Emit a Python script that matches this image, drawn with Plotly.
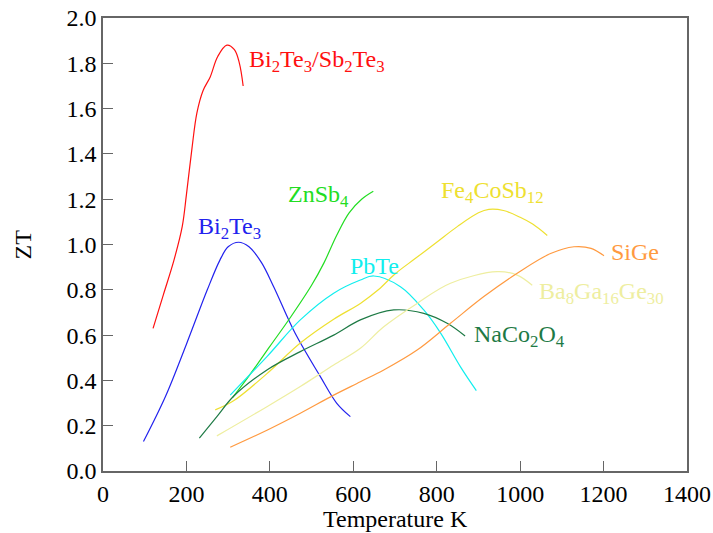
import plotly.graph_objects as go

# ---- data ----
bisb_T = [120, 145, 170, 190, 200, 213, 225, 240, 257, 275, 297, 315, 327, 336]
bisb_ZT = [0.63, 0.78, 0.93, 1.08, 1.22, 1.42, 1.58, 1.68, 1.74, 1.83, 1.88, 1.86, 1.80, 1.70]

bite_T = [97, 150, 200, 250, 280, 300, 325, 350, 380, 410, 460, 520, 560, 593]
bite_ZT = [0.13, 0.33, 0.56, 0.80, 0.93, 0.99, 1.01, 0.99, 0.92, 0.81, 0.61, 0.42, 0.30, 0.24]

znsb_T = [311, 350, 400, 450, 500, 530, 560, 590, 620, 648]
znsb_ZT = [0.325, 0.42, 0.55, 0.68, 0.82, 0.92, 1.04, 1.14, 1.20, 1.235]

pbte_T = [305, 393, 473, 553, 617, 649, 713, 769, 809, 857, 895]
pbte_ZT = [0.335, 0.505, 0.667, 0.785, 0.843, 0.861, 0.814, 0.711, 0.61, 0.46, 0.355]

feco_T = [269, 313, 393, 473, 553, 617, 660, 700, 750, 800, 850, 900, 925, 960, 1000, 1030, 1065]
feco_ZT = [0.27, 0.31, 0.43, 0.565, 0.67, 0.74, 0.80, 0.87, 0.94, 1.01, 1.08, 1.14, 1.155, 1.15, 1.12, 1.09, 1.04]

naco_T = [231, 273, 313, 393, 473, 553, 617, 697, 769, 825, 868]
naco_ZT = [0.145, 0.24, 0.33, 0.446, 0.527, 0.60, 0.667, 0.711, 0.696, 0.652, 0.596]

bag_T = [273, 393, 473, 553, 617, 673, 753, 833, 945, 993, 1029]
bag_ZT = [0.155, 0.284, 0.373, 0.468, 0.542, 0.637, 0.74, 0.829, 0.88, 0.865, 0.82]

sige_T = [305, 393, 473, 553, 617, 673, 753, 833, 913, 993, 1073, 1129, 1170, 1201]
sige_ZT = [0.105, 0.18, 0.255, 0.335, 0.394, 0.446, 0.534, 0.652, 0.77, 0.873, 0.96, 0.99, 0.983, 0.95]

# label texts and anchor positions (T, ZT)
labels = ["Bi<sub>2</sub>Te<sub>3</sub>/Sb<sub>2</sub>Te<sub>3</sub>", "Bi<sub>2</sub>Te<sub>3</sub>",
          "ZnSb<sub>4</sub>", "PbTe", "Fe<sub>4</sub>CoSb<sub>12</sub>", "NaCo<sub>2</sub>O<sub>4</sub>",
          "Ba<sub>8</sub>Ga<sub>16</sub>Ge<sub>30</sub>", "SiGe"]
label_T = [345, 222, 438, 587, 805, 884, 1040, 1213]
label_ZT = [1.81, 1.075, 1.216, 0.907, 1.234, 0.594, 0.788, 0.965]

x_ticks = [0, 200, 400, 600, 800, 1000, 1200, 1400]
y_ticks = [0, 0.2, 0.4, 0.6, 0.8, 1.0, 1.2, 1.4, 1.6, 1.8, 2.0]

colors = ["#FF1010", "#2222EE", "#22DD22", "#11EEEE", "#EEE030", "#1E7A45", "#EEEEA0", "#FF9A40"]

series = [(bisb_T, bisb_ZT), (bite_T, bite_ZT), (znsb_T, znsb_ZT), (pbte_T, pbte_ZT),
          (feco_T, feco_ZT), (naco_T, naco_ZT), (bag_T, bag_ZT), (sige_T, sige_ZT)]

FONT = "Liberation Serif, Times New Roman, serif"

fig = go.Figure()
for (t, z), c in zip(series, colors):
    fig.add_trace(go.Scatter(x=t, y=z, mode="lines",
                             line=dict(color=c, width=1.2, shape="spline", smoothing=1.0),
                             showlegend=False, hoverinfo="skip"))

for txt, t, z, c in zip(labels, label_T, label_ZT, colors):
    fig.add_annotation(x=t, y=z, text=txt, showarrow=False, xanchor="left", yanchor="middle",
                       font=dict(family=FONT, size=24, color=c))

axis_common = dict(showgrid=False, zeroline=False, showline=True, linecolor="#666666",
                   linewidth=1.5, mirror=True, ticks="inside", ticklen=10, tickwidth=1.2,
                   tickcolor="#666666", tickfont=dict(family=FONT, size=24, color="black"),
                   automargin=False, ticklabeloverflow="allow")

fig.update_xaxes(range=[0, 1400], tickvals=x_ticks, **axis_common)
fig.update_yaxes(range=[0, 2.0], tickvals=y_ticks, tickformat=".1f", **axis_common)

# axis titles as annotations for exact placement
fig.add_annotation(xref="paper", yref="paper", x=0.5, y=0, yshift=-48, text="Temperature K",
                   showarrow=False, xanchor="center", yanchor="middle",
                   font=dict(family=FONT, size=24, color="black"))
fig.add_annotation(xref="paper", yref="paper", x=0, xshift=-81, y=0.5, text="ZT", textangle=-90,
                   showarrow=False, xanchor="center", yanchor="middle",
                   font=dict(family=FONT, size=24, color="black"))

fig.update_layout(width=713, height=533, margin=dict(l=103, r=26, t=18, b=62),
                  paper_bgcolor="white", plot_bgcolor="white")

# remove the default 8px body margin so the figure fills the window exactly
fig.write_html("out.html", config={"displayModeBar": False},
               post_script="document.body.style.margin='0';document.body.style.overflow='hidden';")
